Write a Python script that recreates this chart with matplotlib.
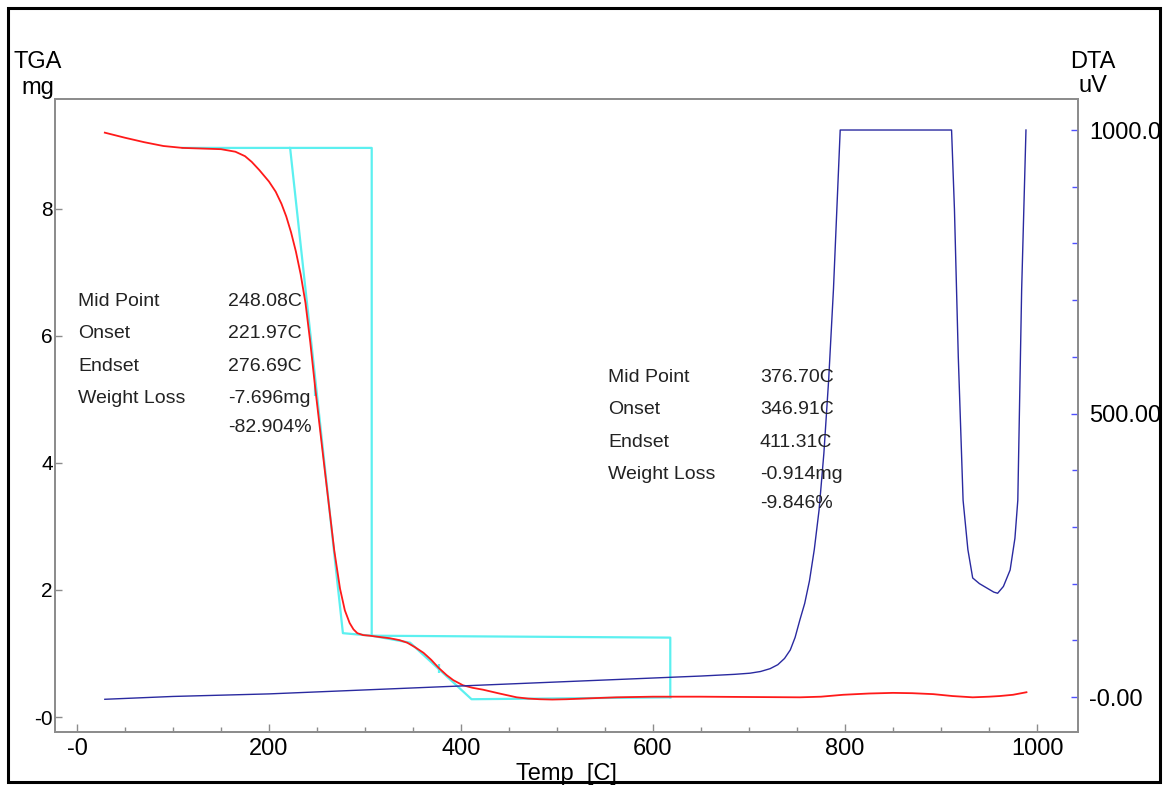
import matplotlib
matplotlib.use("Agg")
import matplotlib.pyplot as plt
from matplotlib.patches import Rectangle
from matplotlib.ticker import MultipleLocator, FixedLocator

plt.rcParams['font.family'] = ['Liberation Sans', 'DejaVu Sans']

# TGA curve (mg) against temperature (C)
tga_temp = [29, 50, 70, 90, 110, 130, 150, 165, 175, 182, 190, 200, 207, 213,
            218, 223, 228, 233, 238, 243, 248, 253, 258, 263, 268, 274, 279,
            284, 288, 292, 298, 305, 315, 326, 336, 344, 352, 361, 369, 377,
            385, 392, 402, 412, 423, 440, 458, 470, 482, 495, 510, 535, 562,
            600, 649, 700, 753, 775, 798, 825, 850, 870, 892, 912, 933, 950,
            961, 975, 989]
tga_mg = [9.20, 9.12, 9.05, 8.99, 8.96, 8.95, 8.94, 8.90, 8.83, 8.74, 8.61,
          8.43, 8.27, 8.08, 7.88, 7.63, 7.33, 6.97, 6.52, 5.90, 5.20, 4.55,
          3.90, 3.26, 2.62, 2.02, 1.68, 1.48, 1.38, 1.32, 1.29, 1.28, 1.26,
          1.24, 1.21, 1.17, 1.10, 1.01, 0.90, 0.77, 0.66, 0.58, 0.50, 0.46,
          0.43, 0.37, 0.31, 0.29, 0.28, 0.275, 0.28, 0.295, 0.31, 0.32, 0.32,
          0.315, 0.31, 0.32, 0.35, 0.37, 0.38, 0.375, 0.36, 0.33, 0.31, 0.32,
          0.33, 0.35, 0.39]

# DTA curve (uV)
dta_temp = [29, 100, 200, 300, 400, 500, 600, 650, 685, 701, 712, 722, 730,
            737, 743, 748, 753, 758, 763, 768, 773, 778, 783, 788, 792, 795,
            850, 911, 914, 918, 923, 928, 933, 940, 948, 955, 959, 965, 972,
            977, 980, 984, 988.5]
dta_uv = [-4, 1, 5.5, 12.5, 19.5, 26.5, 33.5, 37, 40, 42, 45, 50, 57, 68, 83,
          105, 136, 165, 205, 260, 330, 430, 560, 720, 880, 1000, 1000, 1000,
          860, 600, 347, 260, 210, 200, 192, 185, 183, 195, 224, 280, 347,
          718, 1000]

# step analysis construction lines
tan_temp = [110, 222, 277, 307, 347, 411, 618]
tan_mg = [8.96, 8.96, 1.32, 1.28, 1.17, 0.28, 0.31]
box_temp = [222, 307, 307, 618, 618]
box_mg = [8.96, 8.96, 1.28, 1.25, 0.31]
mid_temp = [248.08, 376.7]
mid_lo = [5.05, 0.69]
mid_hi = [5.25, 0.83]

step_labels = ["Mid Point", "Onset", "Endset", "Weight Loss", ""]
step1_vals = ["248.08C", "221.97C", "276.69C", "-7.696mg", "-82.904%"]
step2_vals = ["376.70C", "346.91C", "411.31C", "-0.914mg", "-9.846%"]

x_ticks = [0, 200, 400, 600, 800, 1000]
x_ticklabels = ["-0", "200", "400", "600", "800", "1000"]
y_ticks = [0, 2, 4, 6, 8]
y_ticklabels = ["-0", "2", "4", "6", "8"]
y2_ticks = [0, 500, 1000]
y2_ticklabels = ["-0.00", "500.00", "1000.0"]

W, H = 1170, 785
fig = plt.figure(figsize=(W / 100, H / 100), dpi=100)
ax = fig.add_axes([55 / W, 1 - 732 / H, (1078 - 55) / W, (732 - 99) / H])
ax2 = ax.twinx()

grey = '#8c8c8c'
ax.plot(tga_temp, tga_mg, color='#ff1a1a', lw=1.3, zorder=3)
ax.plot(tan_temp, tan_mg, color='#5cf0f0', lw=1.6, zorder=2)
ax.plot(box_temp, box_mg, color='#5cf0f0', lw=1.6, zorder=2)
ax.vlines(mid_temp, mid_lo, mid_hi, color='#5cf0f0', lw=1.6, zorder=2)
ax2.plot(dta_temp, dta_uv, color='#2a2aa0', lw=1.0)

ax.set_xlim(-22.9, 1042.7)
ax.set_ylim(-0.236, 9.73)
ax2.set_ylim(-61.7, 1054.7)

ax.xaxis.set_major_locator(FixedLocator(x_ticks))
ax.set_xticklabels(x_ticklabels)
ax.xaxis.set_minor_locator(MultipleLocator(50))
ax.yaxis.set_major_locator(FixedLocator(y_ticks))
ax.set_yticklabels(y_ticklabels)
ax2.yaxis.set_major_locator(FixedLocator(y2_ticks))
ax2.set_yticklabels(y2_ticklabels)
ax2.yaxis.set_minor_locator(MultipleLocator(100))

ax.tick_params(axis='x', which='major', direction='in', length=6, width=1,
               color=grey, labelsize=17, pad=4, top=False)
ax.tick_params(axis='x', which='minor', direction='in', length=3.5, width=1,
               color=grey, top=False)
ax.tick_params(axis='y', which='major', direction='in', length=5, width=1,
               color=grey, labelsize=15, pad=1.5)
ax2.tick_params(axis='y', which='major', direction='in', length=5, width=1,
                color='#5050ff', labelsize=17, pad=8)
ax2.tick_params(axis='y', which='minor', direction='in', length=4, width=1,
                color='#5050ff')

for a in (ax, ax2):
    for s in a.spines.values():
        s.set_color(grey)
        s.set_linewidth(1.3)

ax.set_xlabel("Temp  [C]", fontsize=17, labelpad=0)
ax.xaxis.set_label_coords(0.5, (1 - 780 / H - (1 - 732 / H)) / ((732 - 99) / H))
ax.xaxis.label.set_va('baseline')

fig.text(38 / W, 1 - 62 / H, "TGA", fontsize=17, ha='center', va='center')
fig.text(38 / W, 1 - 88 / H, "mg", fontsize=17, ha='center', va='center')
fig.text(1093 / W, 1 - 62 / H, "DTA", fontsize=17, ha='center', va='center')
fig.text(1093 / W, 1 - 86 / H, "uV", fontsize=17, ha='center', va='center')

base1 = [306, 338, 371, 403, 432]
for i in range(5):
    b1 = base1[i]
    b2 = b1 + 76
    fig.text(78 / W, 1 - b1 / H, step_labels[i], fontsize=14, color='#222222')
    fig.text(228 / W, 1 - b1 / H, step1_vals[i], fontsize=14, color='#222222')
    fig.text(608 / W, 1 - b2 / H, step_labels[i], fontsize=14, color='#222222')
    fig.text(760 / W, 1 - b2 / H, step2_vals[i], fontsize=14, color='#222222')

fig.patches.append(Rectangle((8 / W, 3 / H), (1160 - 8) / W, (777 - 3) / H,
                             transform=fig.transFigure, fill=False,
                             edgecolor='black', lw=2.2))

fig.savefig("out.png", dpi=100)
